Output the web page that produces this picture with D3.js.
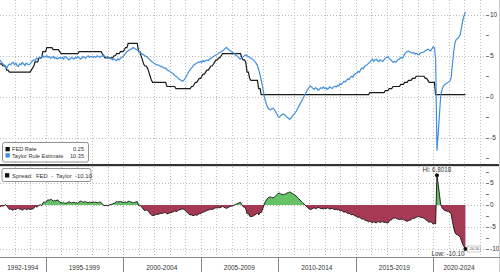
<!DOCTYPE html>
<html><head><meta charset="utf-8">
<script src="https://cdn.jsdelivr.net/npm/d3@7"></script>
<style>
body{margin:0;background:#fff;}
svg{display:block;font-family:"Liberation Sans",Arial,sans-serif;}
</style>
</head><body>
<svg id="chart" width="500" height="272"></svg>
<script>
// ---------------- DATA (monthly, Jan 1992 .. Feb 2022) ----------------
const startYear = 1992;
const fedRate = [
 4.0,4.0,4.0,3.75,3.75,3.75,3.25,3.25,3.0,3.0,3.0,3.0,          // 1992
 3,3,3,3,3,3,3,3,3,3,3,3,                                       // 1993
 3.0,3.25,3.5,3.75,4.25,4.25,4.25,4.75,4.75,4.75,5.5,5.5,       // 1994
 5.5,6.0,6.0,6.0,6.0,6.0,5.75,5.75,5.75,5.75,5.75,5.5,          // 1995
 5.25,5.25,5.25,5.25,5.25,5.25,5.25,5.25,5.25,5.25,5.25,5.25,   // 1996
 5.25,5.25,5.5,5.5,5.5,5.5,5.5,5.5,5.5,5.5,5.5,5.5,             // 1997
 5.5,5.5,5.5,5.5,5.5,5.5,5.5,5.5,5.25,5.0,4.75,4.75,            // 1998
 4.75,4.75,4.75,4.75,4.75,5.0,5.0,5.25,5.25,5.25,5.5,5.5,       // 1999
 5.5,5.75,6.0,6.0,6.5,6.5,6.5,6.5,6.5,6.5,6.5,6.5,              // 2000
 5.5,5.5,5.0,4.5,4.0,3.75,3.75,3.5,3.0,2.5,2.0,1.75,            // 2001
 1.75,1.75,1.75,1.75,1.75,1.75,1.75,1.75,1.75,1.75,1.25,1.25,   // 2002
 1.25,1.25,1.25,1.25,1.25,1.0,1.0,1.0,1.0,1.0,1.0,1.0,          // 2003
 1.0,1.0,1.0,1.0,1.0,1.25,1.25,1.5,1.75,1.75,2.0,2.25,          // 2004
 2.25,2.5,2.75,2.75,3.0,3.25,3.25,3.5,3.75,3.75,4.0,4.25,       // 2005
 4.5,4.5,4.75,4.75,5.0,5.25,5.25,5.25,5.25,5.25,5.25,5.25,      // 2006
 5.25,5.25,5.25,5.25,5.25,5.25,5.25,5.25,4.75,4.5,4.5,4.25,     // 2007
 3.0,3.0,2.25,2.0,2.0,2.0,2.0,2.0,2.0,1.0,1.0,0.25,             // 2008
 0.25,0.25,0.25,0.25,0.25,0.25,0.25,0.25,0.25,0.25,0.25,0.25,   // 2009
 0.25,0.25,0.25,0.25,0.25,0.25,0.25,0.25,0.25,0.25,0.25,0.25,   // 2010
 0.25,0.25,0.25,0.25,0.25,0.25,0.25,0.25,0.25,0.25,0.25,0.25,   // 2011
 0.25,0.25,0.25,0.25,0.25,0.25,0.25,0.25,0.25,0.25,0.25,0.25,   // 2012
 0.25,0.25,0.25,0.25,0.25,0.25,0.25,0.25,0.25,0.25,0.25,0.25,   // 2013
 0.25,0.25,0.25,0.25,0.25,0.25,0.25,0.25,0.25,0.25,0.25,0.25,   // 2014
 0.25,0.25,0.25,0.25,0.25,0.25,0.25,0.25,0.25,0.25,0.25,0.5,    // 2015
 0.5,0.5,0.5,0.5,0.5,0.5,0.5,0.5,0.5,0.5,0.5,0.75,              // 2016
 0.75,0.75,1.0,1.0,1.0,1.25,1.25,1.25,1.25,1.25,1.25,1.5,       // 2017
 1.5,1.5,1.75,1.75,1.75,2.0,2.0,2.0,2.25,2.25,2.25,2.5,         // 2018
 2.5,2.5,2.5,2.5,2.5,2.5,2.25,2.25,2.0,1.75,1.75,1.75,          // 2019
 1.75,1.75,0.25,0.25,0.25,0.25,0.25,0.25,0.25,0.25,0.25,0.25,   // 2020
 0.25,0.25,0.25,0.25,0.25,0.25,0.25,0.25,0.25,0.25,0.25,0.25,   // 2021
 0.25,0.25                                                      // 2022
];
const taylorRule = [
 4.5,4.4,4.2,4.0,3.9,3.6,3.5,3.8,4.0,3.9,4.1,4.2,   // 1992
 3.9,4.1,3.8,3.7,4.0,3.9,4.2,4.0,3.8,4.1,4.0,3.9,   // 1993
 4.0,4.2,4.4,4.5,4.4,4.7,4.6,4.8,4.7,4.9,5.0,4.8,   // 1994
 4.9,5.0,4.8,4.9,4.7,4.8,4.9,4.7,4.8,4.6,4.7,4.8,   // 1995
 4.7,4.8,4.6,4.9,4.8,4.7,4.5,4.6,4.8,4.7,4.6,4.8,   // 1996
 4.7,4.9,4.8,4.6,4.7,4.9,4.8,4.7,4.9,5.0,4.8,4.9,   // 1997
 4.9,4.8,4.9,4.8,5.0,4.9,4.8,4.9,5.0,5.1,4.9,4.8,   // 1998
 4.9,4.8,4.7,4.6,4.5,4.6,4.5,4.4,4.6,4.5,4.7,4.8,   // 1999
 4.9,5.1,5.3,5.5,5.6,5.7,5.8,5.9,6.0,5.9,5.8,5.7,   // 2000
 5.6,5.5,5.3,5.2,5.1,5.0,4.9,4.8,4.6,4.5,4.3,4.2,   // 2001
 4.1,4.0,3.9,3.9,3.8,3.7,3.7,3.6,3.5,3.5,3.3,3.2,   // 2002
 3.1,3.0,2.9,2.8,2.6,2.5,2.4,2.2,2.1,2.0,1.9,2.0,   // 2003
 2.2,2.5,2.8,3.1,3.3,3.5,3.7,3.9,4.0,4.1,4.2,4.2,   // 2004
 4.3,4.2,4.4,4.3,4.4,4.5,4.4,4.6,4.7,4.8,4.9,5.0,   // 2005
 5.1,5.2,5.3,5.4,5.5,5.6,5.7,5.9,6.0,5.9,5.7,5.6,   // 2006
 5.5,5.4,5.3,5.1,5.0,4.9,4.7,4.6,4.7,4.9,5.0,5.1,   // 2007
 5.0,4.9,4.8,4.7,4.6,4.5,4.3,4.1,3.8,3.3,2.7,2.0,   // 2008
 1.2,0.3,-0.4,-0.9,-1.3,-1.5,-1.6,-1.5,-1.4,-1.5,-1.8,-2.1,      // 2009
 -2.4,-2.5,-2.3,-2.2,-2.1,-2.2,-2.3,-2.5,-2.6,-2.75,-2.6,-2.4,   // 2010
 -2.2,-2.0,-1.8,-1.5,-1.2,-0.9,-0.6,-0.3,0.0,0.3,0.6,0.9,        // 2011
 1.1,1.3,1.2,1.0,0.9,1.1,1.0,0.8,0.9,1.1,1.0,1.2,   // 2012
 1.0,1.1,0.9,1.0,1.2,1.1,1.0,1.2,1.3,1.2,1.4,1.3,   // 2013
 1.6,1.5,1.7,1.9,1.8,2.0,2.2,2.1,2.4,2.5,2.4,2.7,   // 2014
 2.8,2.9,3.1,3.0,3.3,3.5,3.4,3.7,3.8,3.9,4.1,4.2,   // 2015
 4.4,4.6,4.3,4.5,4.6,4.4,4.3,4.5,4.4,4.3,4.5,4.7,   // 2016
 4.8,4.9,4.7,4.5,4.4,4.2,4.3,4.2,4.4,4.5,4.6,4.8,   // 2017
 4.7,4.9,5.2,5.4,5.5,5.6,5.5,5.4,5.3,5.4,5.2,5.3,   // 2018
 5.2,5.1,5.3,5.4,5.4,5.5,5.6,5.7,5.8,5.7,5.6,5.8,   // 2019
 6.1,6.0,4.6,-6.5518,-4.5,-2.0,0.3,0.9,1.3,1.5,1.6,1.7,  // 2020
 1.8,1.9,2.3,4.0,5.5,6.6,7.0,7.1,7.3,7.6,8.5,9.3,   // 2021
 9.9,10.35                                          // 2022
];
const periodStarts = [1992,1995,2000,2005,2010,2015,2020];
const periodLabels = ["1992-1994","1995-1999","2000-2004","2005-2009","2010-2014","2015-2019","2020-2024"];
const topTicks = [10,5,0,-5];
const bottomTicks = [5,0,-5,-10];
const legendTop = [
  {name:"FED Rate", value:"0.25", color:"#111"},
  {name:"Taylor Rule Estimate", value:"10.35", color:"#3f8fdc"}
];
const legendBottom = {name:"Spread:  FED  -  Taylor", value:"-10.10"};

// ---------------- DERIVED ----------------
const dates = fedRate.map((d,i)=> new Date(startYear, i, 1));
const series = dates.map((d,i)=>({date:d, fed:fedRate[i], taylor:taylorRule[i], spread:+(fedRate[i]-taylorRule[i]).toFixed(4)}));

// ---------------- LAYOUT ----------------
const svg = d3.select("#chart");
const plotRight = 485;
const x = d3.scaleTime().domain([new Date(1992,0,1), new Date(2023,4,8)]).range([-1, plotRight]);
const yTop = d3.scaleLinear().domain([-8.2, 11.8]).range([164, 0]);
const yBot = d3.scaleLinear().domain([-11.7, 8.72]).range([256, 167]);
const gridColor = "#bdbdbd";
const textColor = "#333";

// vertical year gridlines
const yearTicks = d3.range(1993, 2024).map(y=>new Date(y,0,1));
[[0,164],[167,256]].forEach(([a,b])=>{
  svg.append("g").selectAll("line").data(yearTicks).join("line")
    .attr("x1",d=>Math.round(x(d))+0.5).attr("x2",d=>Math.round(x(d))+0.5)
    .attr("y1",a).attr("y2",b)
    .attr("stroke",gridColor).attr("stroke-width",1).attr("stroke-dasharray","1,2");
});
// horizontal gridlines
svg.append("g").selectAll("line").data(topTicks).join("line")
  .attr("x1",0).attr("x2",plotRight)
  .attr("y1",d=>Math.round(yTop(d))+0.5).attr("y2",d=>Math.round(yTop(d))+0.5)
  .attr("stroke",gridColor).attr("stroke-dasharray","1,2");
svg.append("g").selectAll("line").data(bottomTicks).join("line")
  .attr("x1",0).attr("x2",plotRight)
  .attr("y1",d=>Math.round(yBot(d))+0.5).attr("y2",d=>Math.round(yBot(d))+0.5)
  .attr("stroke",gridColor).attr("stroke-dasharray","1,2");

// right axes
function rightAxis(scale, ticks, minorDomain){
  const g = svg.append("g");
  const minor = d3.range(minorDomain[0], minorDomain[1]+0.01, 2.5);
  g.selectAll("line.mn").data(minor).join("line")
    .attr("x1",plotRight+1).attr("x2",plotRight+4)
    .attr("y1",d=>Math.round(scale(d))+0.5).attr("y2",d=>Math.round(scale(d))+0.5)
    .attr("stroke","#555").attr("stroke-width",0.8);
  g.selectAll("text").data(ticks).join("text")
    .attr("x",plotRight+5).attr("y",d=>scale(d)+2.2)
    .attr("font-size",6.5).attr("fill",textColor).text(d=>d);
}
rightAxis(yTop, topTicks, [-7.5, 10]);
rightAxis(yBot, bottomTicks, [-10, 7.5]);

// top panel lines
const lineFed = d3.line().x(d=>x(d.date)).y(d=>yTop(d.fed));
const lineTaylor = d3.line().x(d=>x(d.date)).y(d=>yTop(d.taylor));
svg.append("path").datum(series).attr("d",lineFed)
  .attr("fill","none").attr("stroke","#1a1a1a").attr("stroke-width",1.2);
svg.append("path").datum(series).attr("d",lineTaylor)
  .attr("fill","none").attr("stroke","#3f8fdc").attr("stroke-width",1.2);

// bottom panel spread area
const defs = svg.append("defs");
const zeroY = yBot(0);
defs.append("clipPath").attr("id","clipPos").append("rect")
  .attr("x",0).attr("y",160).attr("width",500).attr("height",zeroY-160);
defs.append("clipPath").attr("id","clipNeg").append("rect")
  .attr("x",0).attr("y",zeroY).attr("width",500).attr("height",260-zeroY);
const areaSpread = d3.area().x(d=>x(d.date)).y0(zeroY).y1(d=>yBot(d.spread));
svg.append("path").datum(series).attr("d",areaSpread)
  .attr("fill","#66c266").attr("clip-path","url(#clipPos)");
svg.append("path").datum(series).attr("d",areaSpread)
  .attr("fill","#a63a55").attr("clip-path","url(#clipNeg)");
const lineSpread = d3.line().x(d=>x(d.date)).y(d=>yBot(d.spread));
svg.append("path").datum(series).attr("d",lineSpread)
  .attr("fill","none").attr("stroke","#111").attr("stroke-width",0.9);

// hi / low annotations
const hi = series.reduce((a,b)=>b.spread>a.spread?b:a);
const lo = series.reduce((a,b)=>b.spread<a.spread?b:a);
svg.append("circle").attr("cx",x(hi.date)).attr("cy",yBot(hi.spread)).attr("r",2).attr("fill","#111");
svg.append("text").attr("x",x(hi.date)).attr("y",yBot(hi.spread)-3)
  .attr("text-anchor","middle").attr("font-size",6.3).attr("fill",textColor)
  .text("Hi: "+hi.spread.toFixed(4));
svg.append("circle").attr("cx",x(lo.date)).attr("cy",yBot(lo.spread)).attr("r",2).attr("fill","#111");
svg.append("text").attr("x",x(lo.date)-1).attr("y",255.5)
  .attr("text-anchor","end").attr("font-size",6.3).attr("fill",textColor)
  .text("Low: "+lo.spread.toFixed(2));
svg.append("rect").attr("x",x(lo.date)+2).attr("y",yBot(lo.spread)-3).attr("width",13).attr("height",6)
  .attr("fill","#fff").attr("stroke","#999").attr("stroke-width",0.5);
svg.append("text").attr("x",x(lo.date)+8.5).attr("y",yBot(lo.spread)+1.3)
  .attr("text-anchor","middle").attr("font-size",3.6).attr("fill",textColor)
  .text(lo.spread.toFixed(2));

// separator between panels
svg.append("rect").attr("x",0).attr("y",164).attr("width",500).attr("height",2.2).attr("fill","#333");
// right frame
svg.append("line").attr("x1",499.5).attr("x2",499.5).attr("y1",0).attr("y2",272).attr("stroke","#ccc");

// x axis strip
svg.append("line").attr("x1",0).attr("x2",500).attr("y1",257.5).attr("y2",257.5).attr("stroke","#888");
const bounds = periodStarts.map(y=>x(new Date(y,0,1)));
svg.append("g").selectAll("line").data(bounds.slice(1)).join("line")
  .attr("x1",d=>Math.round(d)+0.5).attr("x2",d=>Math.round(d)+0.5)
  .attr("y1",257).attr("y2",272).attr("stroke","#888");
svg.append("g").selectAll("text").data(periodLabels).join("text")
  .attr("x",(d,i)=>{
    const a = Math.max(0,bounds[i]);
    const b = i+1<bounds.length ? bounds[i+1] : plotRight;
    return (a+b)/2;
  })
  .attr("y",269.5).attr("text-anchor","middle").attr("font-size",6.5).attr("fill",textColor)
  .text(d=>d);

// legends
const fs = 5.6;
const lt = svg.append("g");
lt.append("rect").attr("x",2.5).attr("y",142.5).attr("width",86).attr("height",19.5).attr("rx",2)
  .attr("fill","#fff").attr("stroke","#777").attr("stroke-width",0.8);
legendTop.forEach((d,i)=>{
  const by = 151.3 + i*6.2;
  lt.append("rect").attr("x",5.5).attr("y",by-4.3).attr("width",4.3).attr("height",4.3).attr("fill",d.color);
  lt.append("text").attr("x",12).attr("y",by).attr("font-size",fs).attr("fill",textColor).text(d.name);
  lt.append("text").attr("x",84).attr("y",by).attr("text-anchor","end").attr("font-size",fs).attr("fill",textColor).text(d.value);
});
const lb = svg.append("g");
lb.append("rect").attr("x",2).attr("y",168.5).attr("width",89).attr("height",13).attr("rx",2)
  .attr("fill","#fff").attr("stroke","#777").attr("stroke-width",0.8);
lb.append("rect").attr("x",5).attr("y",173.2).attr("width",4.3).attr("height",4.3).attr("fill","#111");
lb.append("text").attr("x",12).attr("y",177.6).attr("font-size",fs+0.3).attr("fill",textColor)
  .style("white-space","pre")
  .text(legendBottom.name + "  " + legendBottom.value);
</script>
</body></html>
